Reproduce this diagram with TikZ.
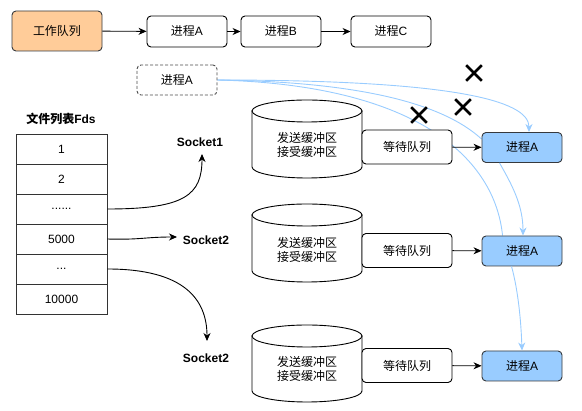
\documentclass[tikz,border=0pt]{standalone}
\usepackage{fontspec}
\setmainfont{Liberation Sans}
\newfontfamily\cjk{Noto Sans CJK SC}
\usetikzlibrary{arrows.meta,shapes.misc,calc}
\definecolor{orangefill}{HTML}{FFCC99}
\definecolor{bluefill}{HTML}{99CCFF}
\definecolor{bluelink}{HTML}{99CCFF}
\definecolor{edgegray}{HTML}{36393D}
\pgfdeclarelayer{bg}
\pgfsetlayers{bg,main}
\begin{document}
\begin{tikzpicture}[x=1pt,y=-1pt,
  font=\fontsize{12}{14}\selectfont,
  base/.style={draw=black, rounded corners=4pt, inner sep=0pt, line width=0.9pt, fill=white},
  pbox/.style={base, minimum width=80pt, minimum height=31pt},
  qbox/.style={base, minimum width=90pt, minimum height=34pt},
  bbox/.style={base, draw=edgegray, fill=bluefill, minimum width=80pt, minimum height=30pt},
  dbox/.style={base, draw=black!70, dashed, dash pattern=on 3pt off 2pt, minimum width=80pt, minimum height=30pt},
  cell/.style={draw=black!80, line width=0.9pt, minimum width=91pt, minimum height=30pt, inner sep=0pt},
  cyl/.style={draw=black, line width=0.9pt, fill=white},
  lbl/.style={font=\fontsize{12}{14}\selectfont\bfseries, inner sep=1pt},
  arr/.style={draw=black, line width=0.9pt, -{Stealth[length=8pt,width=7pt,inset=2.5pt]}},
  barr/.style={draw=bluelink, line width=0.9pt, -{Stealth[length=8pt,width=7pt,inset=2.5pt]}},
  bline/.style={draw=bluelink, line width=0.9pt},
  xmark/.style={draw=black, cross out, line width=2.6pt, minimum size=13pt, inner sep=0pt}]
\useasboundingbox (0,0) rectangle (582,411);

% top row
\node[base, draw=edgegray, fill=orangefill, minimum width=90pt, minimum height=40pt] (wq) at (57,31) {{\cjk 工作队列}};
\node[pbox] (pa) at (187,31.5) {{\cjk 进程}A};
\node[pbox] (pb) at (281,31.5) {{\cjk 进程}B};
\node[pbox] (pc) at (391,31.5) {{\cjk 进程}C};
\draw[arr] (wq) -- (pa);
\draw[arr] (pa) -- (pb);
\draw[arr] (pb) -- (pc);

% dashed process
\node[dbox] (pd) at (177,80) {{\cjk 进程}A};

% file table
\node[lbl] (ttl) at (61,119) {{\cjk 文件列表}Fds};
\node[cell] (f1) at (61.5,149) {1};
\node[cell] (f2) at (61.5,179) {2};
\node[cell] (f3) at (61.5,209) {......};
\node[cell] (f4) at (61.5,239) {5000};
\node[cell] (f5) at (61.5,269) {...};
\node[cell] (f6) at (61.5,299) {10000};

% sockets
\node[lbl] (s1) at (200,142) {Socket1};
\node[lbl] (s2) at (206,240) {Socket2};
\node[lbl] (s3) at (206,358) {Socket2};
\coordinate (s1t) at (202,154);
\coordinate (s2t) at (177,237);
\coordinate (s3t) at (207,341);
\draw[arr] (f3.east) .. controls (185,209) and (202,195) .. (s1t);
\draw[arr] (f4.east) .. controls (140,240) and (145,237) .. (s2t);
\draw[arr] (f5.east) .. controls (185,269) and (207,300) .. (s3t);

% cylinders
\foreach \yt/\yb/\ty [count=\i] in {111/167/145, 215/271/249.5, 336/391/369}{
  \filldraw[cyl] (252,\yt) -- (252,\yb) .. controls (252,\yb+6.08) and (276.6,\yb+11) .. (307,\yb+11)
     .. controls (337.4,\yb+11) and (362,\yb+6.08) .. (362,\yb) -- (362,\yt) -- cycle;
  \filldraw[cyl] (307,\yt) ellipse [x radius=55, y radius=11];
  \node[align=center, inner sep=0pt] (c\i) at (307,\ty) {{\cjk 发送缓冲区}\\{\cjk 接受缓冲区}};
}

% wait queues and processes
\node[qbox] (q1) at (407,147) {{\cjk 等待队列}};
\node[qbox] (q2) at (407,250.5) {{\cjk 等待队列}};
\node[qbox] (q3) at (407,365.5) {{\cjk 等待队列}};
\node[bbox] (p1) at (522,147.5) {{\cjk 进程}A};
\node[bbox] (p2) at (522,251) {{\cjk 进程}A};
\node[bbox] (p3) at (522,366) {{\cjk 进程}A};
\draw[arr] (q1) -- (p1);
\draw[arr] (q2) -- (p2);
\draw[arr] (q3) -- (p3);

% blue links
\begin{pgfonlayer}{bg}
\draw[barr] (pd.east) .. controls (450,80) and (529,100) .. ($(p1.north)+(7,0)$);
\draw[bline] (pd.east) .. controls (380,82) and (450,110) .. ($(p1.north west)+(0,7)$);
\draw[bline] (pd.east) .. controls (420,85) and (495,160) .. ($(p2.north west)+(21,0)$);
\end{pgfonlayer}
\draw[barr] ($(p1.south west)+(18,0)$) .. controls (512,185) and (523,205) .. ($(p2.north)+(1,0)$);
\draw[barr] ($(p2.south west)+(30,0)$) .. controls (518,290) and (521,320) .. (p3.north);

% crosses
\node[xmark] (x1) at (474,73) {};
\node[xmark] (x2) at (463,107) {};
\node[xmark] (x3) at (419,115) {};
\end{tikzpicture}
\end{document}
